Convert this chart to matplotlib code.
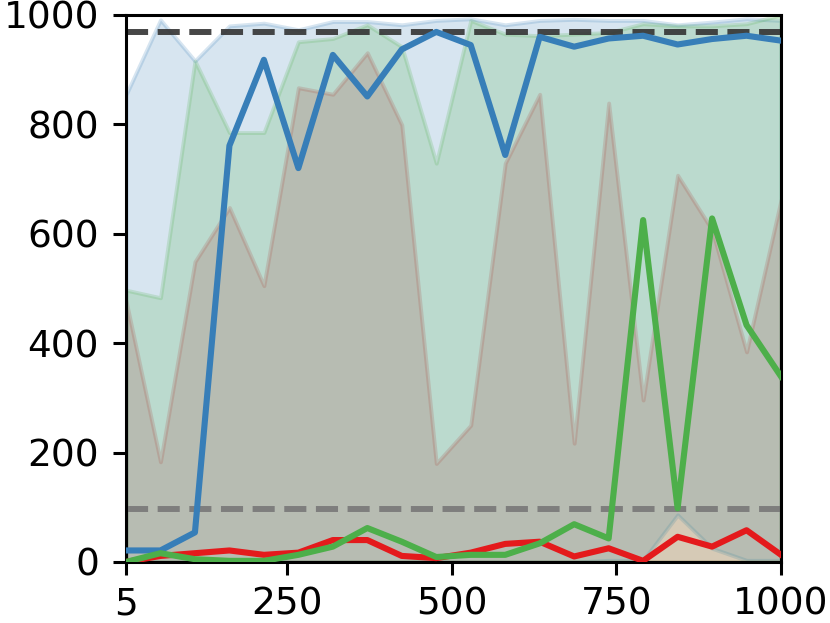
from matplotlib import pyplot as plt
import numpy as np

# 20 evaluation points from 5 to 1000
steps = np.linspace(5, 1000, 20)

# median curves
blue_mid = [21, 21, 54, 761, 918, 720, 927, 851, 937, 969,
            945, 744, 960, 942, 957, 962, 946, 956, 962, 953]
green_mid = [0, 16, 5, 2, 2, 13, 28, 62, 37, 9,
             13, 13, 34, 69, 43, 625, 98, 628, 433, 339]
red_mid = [0, 11, 16, 21, 13, 17, 40, 40, 11, 7,
           17, 33, 37, 10, 25, 2, 46, 28, 58, 13]

# spread bands
blue_lo = [0, 0, 0, 0, 0, 0, 0, 0, 0, 0,
           0, 0, 0, 0, 3, 3, 86, 25, 3, 3]
blue_hi = [854, 991, 916, 980, 985, 973, 988, 988, 982, 990,
           993, 982, 990, 992, 990, 990, 982, 987, 993, 990]
green_lo = [0] * 20
green_hi = [497, 483, 916, 785, 785, 951, 957, 982, 942, 729,
            990, 965, 962, 965, 968, 984, 980, 980, 984, 1000]
red_lo = [0] * 20
red_hi = [478, 183, 549, 648, 505, 867, 855, 931, 799, 180,
          250, 729, 855, 217, 839, 296, 707, 607, 384, 662]

upper_ref = 968
lower_ref = 97

c_blue = '#377eb8'
c_green = '#4daf4a'
c_red = '#e41a1c'

fig, ax = plt.subplots(figsize=(8.3, 6.23), dpi=100)
fig.subplots_adjust(left=0.1518, right=0.941, bottom=0.098, top=0.976)

ax.fill_between(steps, red_lo, red_hi, color=c_red, alpha=0.2, lw=2.8, zorder=1)
ax.fill_between(steps, blue_lo, blue_hi, color=c_blue, alpha=0.2, lw=2.8, zorder=1)
ax.fill_between(steps, green_lo, green_hi, color=c_green, alpha=0.2, lw=2.8, zorder=1)

ax.axhline(upper_ref, color='0.2', alpha=0.9, lw=4.3, linestyle='--', zorder=2)
ax.axhline(lower_ref, color='0.47', alpha=0.9, lw=4.3, linestyle='--', zorder=2)

ax.plot(steps, red_mid, color=c_red, lw=4.4, zorder=3)
ax.plot(steps, blue_mid, color=c_blue, lw=4.4, zorder=3)
ax.plot(steps, green_mid, color=c_green, lw=4.4, zorder=3)

ax.set_xlim(5, 1000)
ax.set_ylim(0, 1000)
ax.set_xticks([5, 250, 500, 750, 1000])
ax.set_yticks([0, 200, 400, 600, 800, 1000])
ax.tick_params(labelsize=27, length=9.4, width=2.2)
ax.tick_params(axis='x', pad=8)
ax.tick_params(axis='y', pad=10)
for s in ax.spines.values():
    s.set_linewidth(2.2)

fig.savefig('out.png', dpi=100)
